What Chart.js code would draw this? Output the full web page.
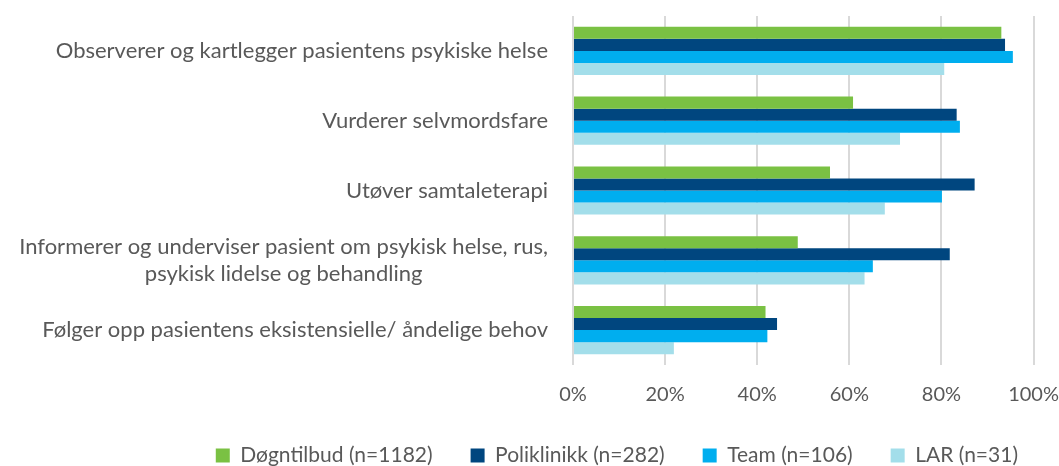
<!DOCTYPE html>
<html>
<head>
<meta charset="utf-8">
<script src="https://cdn.jsdelivr.net/npm/chart.js@4.4.1/dist/chart.umd.min.js"></script>
<style>
  html, body { margin: 0; padding: 0; background: #ffffff; }
  #wrap { position: relative; width: 1059px; height: 466px; }
</style>
</head>
<body>
<div id="wrap"><canvas id="c"></canvas></div>
<script>
const categories = [
  "Observerer og kartlegger pasientens psykiske helse",
  "Vurderer selvmordsfare",
  "Utøver samtaleterapi",
  ["Informerer og underviser pasient om psykisk helse, rus,", "psykisk lidelse og behandling"],
  "Følger opp pasientens eksistensielle/ åndelige behov"
];
const seriesNames = ["Døgntilbud (n=1182)", "Poliklinikk (n=282)", "Team (n=106)", "LAR (n=31)"];
const dogntilbud = [93.0, 60.8, 55.8, 48.8, 41.8];
const poliklinikk = [93.8, 83.3, 87.2, 81.8, 44.3];
const team = [95.5, 84.0, 80.1, 65.1, 42.2];
const lar = [80.6, 71.0, 67.7, 63.3, 21.9];
const seriesColors = ["#7AC143", "#00467F", "#00AEEF", "#A3DEEA"];

const FONT = "Lato";
const TEXT = "#595959";

const yLabelPlugin = {
  id: 'yLabels',
  afterDraw(chart) {
    const scale = chart.scales.y;
    const ctx = chart.ctx;
    ctx.save();
    ctx.font = "22px " + FONT;
    ctx.fillStyle = TEXT;
    ctx.textBaseline = 'middle';
    ctx.textAlign = 'center';
    const right = scale.right - 25;
    const lineH = 27;
    chart.data.labels.forEach((lab, i) => {
      const lines = Array.isArray(lab) ? lab : [lab];
      const w = Math.max(...lines.map(l => ctx.measureText(l).width));
      const cx = right - w / 2;
      const y = scale.getPixelForTick(i);
      lines.forEach((l, j) => {
        ctx.fillText(l, cx, y + (j - (lines.length - 1) / 2) * lineH);
      });
    });
    ctx.restore();
  }
};

const allSeries = [dogntilbud, poliklinikk, team, lar];

new Chart(document.getElementById('c'), {
  type: 'bar',
  data: {
    labels: categories,
    datasets: allSeries.map((d, i) => ({
      label: seriesNames[i],
      data: d,
      backgroundColor: seriesColors[i],
      borderWidth: 0,
      categoryPercentage: 0.69,
      barPercentage: 1.0
    }))
  },
  options: {
    indexAxis: 'y',
    responsive: true,
    maintainAspectRatio: false,
    animation: false,
    layout: { padding: { top: 16, right: 3, left: 0, bottom: 0 } },
    plugins: {
      tooltip: { enabled: false },
      legend: {
        position: 'bottom',
        align: 'end',
        maxHeight: 59,
        labels: {
          boxWidth: 14,
          boxHeight: 14,
          padding: 38,
          color: TEXT,
          font: { family: FONT, size: 21 }
        }
      }
    },
    scales: {
      x: {
        min: 0,
        max: 100,
        ticks: {
          stepSize: 20,
          padding: 0,
          color: TEXT,
          font: { family: FONT, size: 20 },
          callback: v => v + '%'
        },
        grid: { color: '#D9D9D9', lineWidth: 2, drawTicks: true, tickLength: 18, tickColor: 'rgba(0,0,0,0)' },
        border: { display: false }
      },
      y: {
        ticks: { display: false },
        grid: { display: false, drawTicks: false },
        border: { display: false },
        afterFit(scale) { scale.width = 573; }
      }
    }
  },
  plugins: [yLabelPlugin]
});
</script>
</body>
</html>
